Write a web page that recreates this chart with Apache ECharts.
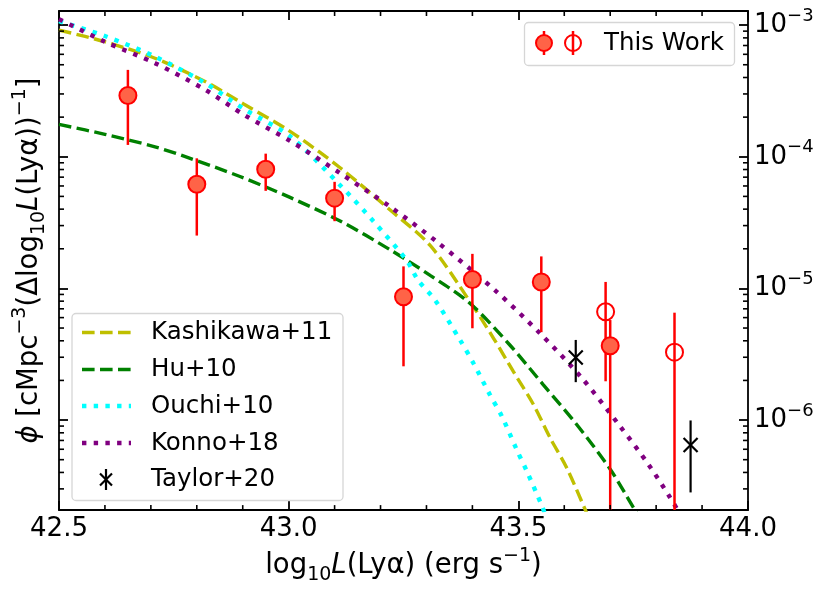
<!DOCTYPE html>
<html>
<head>
<meta charset="utf-8">
<script src="https://cdn.jsdelivr.net/npm/echarts@6/dist/echarts.min.js"></script>
<style>
html, body { margin: 0; padding: 0; background: #fff; }
#chart { width: 831px; height: 590px; }
</style>
</head>
<body>
<div id="chart"></div>
<script>
// This Work - filled points
var workX  = [42.65, 42.80, 42.95, 43.10, 43.25, 43.40, 43.55, 43.70];
var workY  = [2.92e-4, 6.19e-5, 8.04e-5, 4.85e-5, 8.64e-6, 1.17e-5, 1.12e-5, 3.67e-6];
var workLo = [1.23e-4, 2.52e-5, 5.51e-5, 3.24e-5, 2.56e-6, 4.98e-6, 4.65e-6, 1e-8];
var workHi = [4.57e-4, 9.73e-5, 1.056e-4, 6.45e-5, 1.47e-5, 1.83e-5, 1.75e-5, 5.75e-6];

// This Work - open points
var openX  = [43.69, 43.84];
var openY  = [6.65e-6, 3.28e-6];
var openLo = [1.97e-6, 1e-8];
var openHi = [1.12e-5, 6.54e-6];

// Taylor+20
var taylorX  = [43.625, 43.875];
var taylorY  = [2.99e-6, 6.47e-7];
var taylorLo = [1.94e-6, 2.82e-7];
var taylorHi = [4.06e-6, 9.93e-7];

// model curves
var kashiX = [42.50, 42.60, 42.709, 42.818, 42.901, 43.003, 43.112, 43.221, 43.308, 43.395, 43.446, 43.489, 43.533, 43.569, 43.605, 43.645, 43.667];
var kashiY = [9.17e-4, 7.48e-4, 5.60e-4, 3.73e-4, 2.53e-4, 1.56e-4, 8.25e-5, 3.94e-5, 2.12e-5, 7.92e-6, 4.18e-6, 2.34e-6, 1.31e-6, 7.35e-7, 4.36e-7, 2.11e-7, 1.38e-7];

var huX = [42.50, 42.60, 42.709, 42.781, 42.894, 43.003, 43.112, 43.221, 43.308, 43.395, 43.482, 43.554, 43.627, 43.700, 43.750, 43.776];
var huY = [1.76e-4, 1.48e-4, 1.19e-4, 9.85e-5, 7.08e-5, 4.91e-5, 3.25e-5, 1.965e-5, 1.257e-5, 7.69e-6, 3.70e-6, 1.86e-6, 9.26e-7, 4.23e-7, 2.18e-7, 1.54e-7];

var ouchiX = [42.50, 42.60, 42.709, 42.818, 42.905, 43.003, 43.112, 43.184, 43.257, 43.282, 43.319, 43.373, 43.402, 43.438, 43.464, 43.496, 43.518, 43.551, 43.565];
var ouchiY = [1.07e-3, 8.26e-4, 5.76e-4, 3.63e-4, 2.28e-4, 1.43e-4, 6.08e-5, 3.25e-5, 1.63e-5, 1.15e-5, 8.13e-6, 4.06e-6, 2.71e-6, 1.56e-6, 1.07e-6, 6.00e-7, 4.12e-7, 2.24e-7, 1.67e-7];

var konnoX = [42.50, 42.60, 42.709, 42.818, 42.905, 43.003, 43.112, 43.221, 43.322, 43.453, 43.547, 43.638, 43.721, 43.783, 43.830, 43.863];
var konnoY = [1.11e-3, 7.48e-4, 5.14e-4, 3.23e-4, 2.06e-4, 1.32e-4, 7.50e-5, 4.17e-5, 2.27e-5, 9.42e-6, 4.56e-6, 2.09e-6, 9.01e-7, 4.62e-7, 2.59e-7, 1.67e-7];

// axis ticks
var xMinor = [42.6, 42.7, 42.8, 42.9, 43.1, 43.2, 43.3, 43.4, 43.6, 43.7, 43.8, 43.9];
var yMinor = [3e-7, 4e-7, 5e-7, 6e-7, 7e-7, 8e-7, 9e-7,
              2e-6, 3e-6, 4e-6, 5e-6, 6e-6, 7e-6, 8e-6, 9e-6,
              2e-5, 3e-5, 4e-5, 5e-5, 6e-5, 7e-5, 8e-5, 9e-5,
              2e-4, 3e-4, 4e-4, 5e-4, 6e-4, 7e-4, 8e-4, 9e-4];

var font = 'DejaVu Sans';
var chart = echarts.init(document.getElementById('chart'));

function pairs(xs, ys) {
    return xs.map(function (x, i) { return [x, ys[i]]; });
}
function triples(xs, lo, hi) {
    return xs.map(function (x, i) { return [x, lo[i], hi[i]]; });
}

// vertical error bar, clamped to the plot box
function errBar(color, width) {
    return function (params, api) {
        var x = api.value(0);
        var p1 = api.coord([x, api.value(2)]);
        var p2 = api.coord([x, api.value(1)]);
        var cs = params.coordSys;
        var bottom = cs.y + cs.height;
        if (p2[1] > bottom) p2[1] = bottom;
        if (p1[1] < cs.y) p1[1] = cs.y;
        return {
            type: 'line',
            shape: { x1: p1[0], y1: p1[1], x2: p2[0], y2: p2[1] },
            style: { stroke: color, lineWidth: width }
        };
    };
}

// Taylor+20: error bar plus an x marker
function taylorItem(params, api) {
    var x = api.value(0);
    var c = api.coord([x, api.value(1)]);
    var lo = api.coord([x, api.value(2)]);
    var hi = api.coord([x, api.value(3)]);
    var s = 7;
    var st = { stroke: '#000', lineWidth: 2.2 };
    return {
        type: 'group',
        children: [
            { type: 'line', shape: { x1: hi[0], y1: hi[1], x2: lo[0], y2: lo[1] }, style: st },
            { type: 'line', shape: { x1: c[0] - s, y1: c[1] - s, x2: c[0] + s, y2: c[1] + s }, style: st },
            { type: 'line', shape: { x1: c[0] - s, y1: c[1] + s, x2: c[0] + s, y2: c[1] - s }, style: st }
        ]
    };
}

// minor ticks on both sides of the box, placed by the axes
var minorLen = 5;
function tickLine(x1, y1, x2, y2) {
    return { type: 'line', shape: { x1: x1, y1: y1, x2: x2, y2: y2 }, style: { stroke: '#000', lineWidth: 1.6 } };
}
function xMinorItem(params, api) {
    var p = api.coord([api.value(0), 1e-4]);
    var cs = params.coordSys;
    var b = cs.y + cs.height;
    return {
        type: 'group',
        children: [
            tickLine(p[0], b, p[0], b - minorLen),
            tickLine(p[0], cs.y, p[0], cs.y + minorLen)
        ]
    };
}
function yMinorItem(params, api) {
    var p = api.coord([42.5, api.value(1)]);
    var cs = params.coordSys;
    var r = cs.x + cs.width;
    return {
        type: 'group',
        children: [
            tickLine(cs.x, p[1], cs.x + minorLen, p[1]),
            tickLine(r, p[1], r - minorLen, p[1])
        ]
    };
}

function curve(name, xs, ys, color, width, dash) {
    return {
        name: name,
        type: 'line',
        data: pairs(xs, ys),
        smooth: 0.3,
        showSymbol: false,
        clip: true,
        z: 2,
        lineStyle: { color: color, width: width, type: dash, cap: 'butt' }
    };
}

var dashed = [12.6, 5.4];
var dotted = [4.4, 7.3];

var axisLineStyle = { color: '#000', width: 1.8 };
var majorTick = { show: true, inside: true, length: 9, lineStyle: { color: '#000', width: 1.8 } };
var yMin = 2.07e-7, yMax = 1.28e-3;

var titleRich = {
    sub: { fontSize: 19, lineHeight: 22, verticalAlign: 'bottom', fontFamily: font, color: '#000' },
    sup: { fontSize: 19, lineHeight: 19, verticalAlign: 'top', fontFamily: font, color: '#000' },
    i: { fontSize: 27.5, fontStyle: 'italic', fontFamily: font, color: '#000', lineHeight: 38 }
};

var option = {
    animation: false,
    backgroundColor: '#fff',
    grid: { left: 59, right: 83, top: 11, bottom: 77 },
    xAxis: [
        {
            type: 'value', position: 'bottom', min: 42.5, max: 44.0, interval: 0.5,
            axisLine: { show: true, lineStyle: axisLineStyle },
            axisTick: majorTick,
            splitLine: { show: false },
            axisLabel: {
                color: '#000', fontSize: 26, fontFamily: font, margin: 6,
                formatter: function (v) { return v.toFixed(1); }
            },
            name: 'log{sub|10}{i|L}(Lyα) (erg s{sup|−1})',
            nameLocation: 'middle', nameGap: 28,
            nameTextStyle: { color: '#000', fontSize: 27.5, fontFamily: font, lineHeight: 38, rich: titleRich }
        },
        {
            type: 'value', position: 'top', min: 42.5, max: 44.0, interval: 0.5,
            axisLine: { show: true, lineStyle: axisLineStyle },
            axisTick: majorTick,
            splitLine: { show: false },
            axisLabel: { show: false }
        }
    ],
    yAxis: [
        {
            type: 'log', position: 'right', min: yMin, max: yMax,
            axisLine: { show: true, lineStyle: axisLineStyle },
            axisTick: majorTick,
            splitLine: { show: false },
            axisLabel: {
                margin: 6, color: '#000',
                formatter: function (v) {
                    var e = Math.log10(v);
                    if (Math.abs(e - Math.round(e)) > 1e-6) return '';
                    return '{b|10}{s|−' + (-Math.round(e)) + '}';
                },
                rich: {
                    b: { fontSize: 26, fontFamily: font, color: '#000', lineHeight: 36 },
                    s: { fontSize: 18, fontFamily: font, color: '#000', lineHeight: 18, verticalAlign: 'top' }
                }
            }
        },
        {
            type: 'log', position: 'left', min: yMin, max: yMax,
            axisLine: { show: true, lineStyle: axisLineStyle },
            axisTick: majorTick,
            splitLine: { show: false },
            axisLabel: { show: false },
            name: '{i|ϕ} [cMpc{sup|−3}(Δlog{sub|10}{i|L}(Lyα)){sup|−1}]',
            nameLocation: 'middle', nameGap: 10, nameRotate: 90,
            nameTextStyle: { color: '#000', fontSize: 27.5, fontFamily: font, lineHeight: 38, rich: titleRich }
        }
    ],
    series: [
        curve('Kashikawa+11', kashiX, kashiY, '#bfbf00', 3.4, dashed),
        curve('Hu+10', huX, huY, '#008000', 3.4, dashed),
        curve('Ouchi+10', ouchiX, ouchiY, '#00ffff', 4.4, dotted),
        curve('Konno+18', konnoX, konnoY, '#800080', 4.4, dotted),
        {
            name: 'workErr', type: 'custom', clip: true, z: 3,
            data: triples(workX, workLo, workHi),
            encode: { x: 0, y: [1, 2] },
            renderItem: errBar('#ff0000', 2.5)
        },
        {
            name: 'openErr', type: 'custom', clip: true, z: 3,
            data: triples(openX, openLo, openHi),
            encode: { x: 0, y: [1, 2] },
            renderItem: errBar('#ff0000', 2.5)
        },
        {
            name: 'This Work', type: 'scatter', z: 4,
            data: pairs(workX, workY),
            symbol: 'circle', symbolSize: 17,
            itemStyle: { color: '#ff6347', borderColor: '#ff0000', borderWidth: 2, opacity: 1 }
        },
        {
            name: 'This Work (open)', type: 'scatter', z: 4,
            data: pairs(openX, openY),
            symbol: 'circle', symbolSize: 17,
            itemStyle: { color: 'rgba(0,0,0,0)', borderColor: '#ff0000', borderWidth: 2, opacity: 1 }
        },
        {
            name: 'Taylor+20', type: 'custom', clip: true, z: 4,
            data: taylorX.map(function (x, i) { return [x, taylorY[i], taylorLo[i], taylorHi[i]]; }),
            encode: { x: 0, y: [1, 2, 3] },
            renderItem: taylorItem
        },
        {
            name: 'xMinorTicks', type: 'custom', silent: true, z: 6,
            data: xMinor.map(function (v) { return [v, 1e-4]; }),
            encode: { x: 0, y: 1 },
            renderItem: xMinorItem
        },
        {
            name: 'yMinorTicks', type: 'custom', silent: true, z: 6,
            data: yMinor.map(function (v) { return [42.5, v]; }),
            encode: { x: 0, y: 1 },
            renderItem: yMinorItem
        }
    ],
    graphic: [
        // upper-right legend
        { type: 'rect', z: 100, shape: { x: 524.5, y: 22.5, width: 210, height: 43, r: 4 },
          style: { fill: 'rgba(255,255,255,0.8)', stroke: '#d6d6d6', lineWidth: 1.3 } },
        { type: 'line', z: 101, shape: { x1: 544, y1: 31, x2: 544, y2: 55 }, style: { stroke: '#ff0000', lineWidth: 2.5 } },
        { type: 'circle', z: 102, shape: { cx: 544, cy: 43, r: 8 }, style: { fill: '#ff6347', stroke: '#ff0000', lineWidth: 2 } },
        { type: 'line', z: 101, shape: { x1: 573, y1: 31, x2: 573, y2: 55 }, style: { stroke: '#ff0000', lineWidth: 2.5 } },
        { type: 'circle', z: 102, shape: { cx: 573, cy: 43, r: 8 }, style: { fill: 'none', stroke: '#ff0000', lineWidth: 2 } },
        { type: 'text', z: 102, style: { text: 'This Work', x: 604, y: 44, verticalAlign: 'middle', fontSize: 24.5, fontFamily: font, fill: '#000' } },

        // lower-left legend
        { type: 'rect', z: 100, shape: { x: 72, y: 313.5, width: 271, height: 187, r: 4 },
          style: { fill: 'rgba(255,255,255,0.8)', stroke: '#d6d6d6', lineWidth: 1.3 } },
        { type: 'line', z: 101, shape: { x1: 82, y1: 332.5, x2: 131, y2: 332.5 }, style: { stroke: '#bfbf00', lineWidth: 3.4, lineDash: dashed } },
        { type: 'line', z: 101, shape: { x1: 82, y1: 369.5, x2: 131, y2: 369.5 }, style: { stroke: '#008000', lineWidth: 3.4, lineDash: dashed } },
        { type: 'line', z: 101, shape: { x1: 82, y1: 406, x2: 131, y2: 406 }, style: { stroke: '#00ffff', lineWidth: 4.4, lineDash: dotted } },
        { type: 'line', z: 101, shape: { x1: 82, y1: 443, x2: 131, y2: 443 }, style: { stroke: '#800080', lineWidth: 4.4, lineDash: dotted } },
        { type: 'line', z: 101, shape: { x1: 106, y1: 469, x2: 106, y2: 490 }, style: { stroke: '#000', lineWidth: 2.2 } },
        { type: 'line', z: 101, shape: { x1: 100, y1: 473.5, x2: 112, y2: 485.5 }, style: { stroke: '#000', lineWidth: 2.2 } },
        { type: 'line', z: 101, shape: { x1: 100, y1: 485.5, x2: 112, y2: 473.5 }, style: { stroke: '#000', lineWidth: 2.2 } },
        { type: 'text', z: 102, style: { text: 'Kashikawa+11', x: 151, y: 333, verticalAlign: 'middle', fontSize: 24.5, fontFamily: font, fill: '#000' } },
        { type: 'text', z: 102, style: { text: 'Hu+10', x: 151, y: 370, verticalAlign: 'middle', fontSize: 24.5, fontFamily: font, fill: '#000' } },
        { type: 'text', z: 102, style: { text: 'Ouchi+10', x: 151, y: 406.5, verticalAlign: 'middle', fontSize: 24.5, fontFamily: font, fill: '#000' } },
        { type: 'text', z: 102, style: { text: 'Konno+18', x: 151, y: 443.5, verticalAlign: 'middle', fontSize: 24.5, fontFamily: font, fill: '#000' } },
        { type: 'text', z: 102, style: { text: 'Taylor+20', x: 151, y: 480, verticalAlign: 'middle', fontSize: 24.5, fontFamily: font, fill: '#000' } }
    ]
};

chart.setOption(option);
</script>
</body>
</html>
